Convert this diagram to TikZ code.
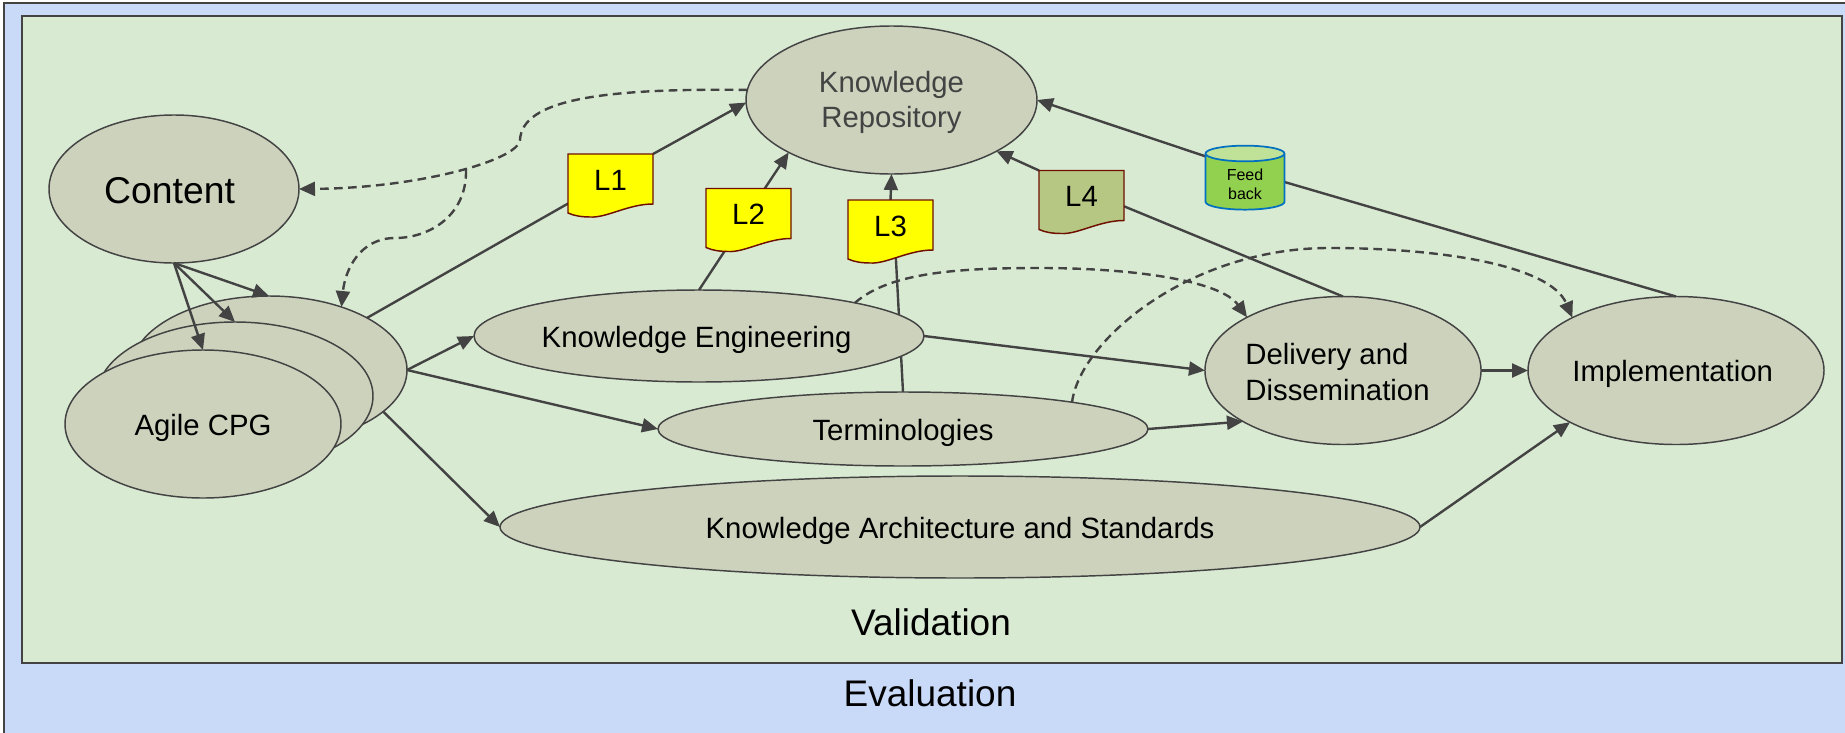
\documentclass[tikz,border=0pt]{standalone}
\usepackage{fontspec}
\setmainfont{Liberation Sans}
\usetikzlibrary{arrows.meta,shapes.geometric}
\definecolor{ev_blue}{RGB}{201, 218, 248}
\definecolor{va_green}{RGB}{217, 234, 211}
\definecolor{el_gray}{RGB}{205, 210, 189}
\definecolor{ln_dark}{RGB}{67, 67, 67}
\definecolor{dc_red}{RGB}{110, 15, 0}
\definecolor{dc_yellow}{RGB}{255, 255, 0}
\definecolor{dc_olive}{RGB}{182, 198, 131}
\definecolor{fb_green}{RGB}{146, 208, 80}
\definecolor{fb_top}{RGB}{192, 225, 152}
\definecolor{fb_blue}{RGB}{0, 112, 192}
\tikzstyle{el}=[ellipse,fill=el_gray,draw=ln_dark,line width=1.1pt,inner sep=0pt,
  outer sep=0pt,font=\fontsize{22}{26.5}\selectfont,align=center]
\tikzstyle{sl}=[text height=21pt,text depth=4.4pt]
\tikzstyle{dc}=[rectangle,minimum width=63.75pt,minimum height=39pt,inner sep=0pt,
  outer sep=0pt,font=\fontsize{22}{26.5}\selectfont]
\tikzstyle{dl}=[draw=dc_red,line width=1.1pt]
\tikzstyle{ar}=[draw=ln_dark,line width=1.8pt,-{Triangle[length=12pt,width=10.5pt]}]
\tikzstyle{ln}=[draw=ln_dark,line width=1.8pt]
\tikzstyle{da}=[ar,dash pattern=on 6.5pt off 4pt]
\tikzstyle{bx}=[draw=ln_dark,line width=1.6pt]
\tikzstyle{tt}=[font=\fontsize{27.75}{33}\selectfont]
\pgfdeclarelayer{back}
\pgfdeclarelayer{front}
\pgfsetlayers{back,main,front}
% document shape with its node: name, position, fill, text
\newcommand{\docnode}[4]{
  \begin{pgfonlayer}{front}
    \draw [style=dl, fill=#3, shift={(#2)}] (-42.5, -26) -- (42.5, -26) -- (42.5, 24)
      .. controls (18, 24) and (-4, 38) .. (-20, 37)
      .. controls (-28, 37) and (-36, 36) .. (-42.5, 33) -- cycle;
    \node [style=dc] (#1) at (#2) {#4};
  \end{pgfonlayer}
}

\begin{document}
\begin{tikzpicture}[x=0.75pt, y=-0.75pt]
    \useasboundingbox (0, 0) rectangle (1845, 732);
    \begin{pgfonlayer}{back}
        \begin{scope}
            \clip (0, 0) rectangle (1845, 732);
            \draw [style=bx, fill=ev_blue] (4, 3) rectangle (1870, 760);
        \end{scope}
        \draw [style=bx, fill=va_green] (22, 16) rectangle (1842, 663);
    \end{pgfonlayer}
    \node [style=tt] (val) at (931, 622) {Validation};
    \node [style=tt] (eva) at (930, 693) {Evaluation};

    \node [style=el, minimum width=250*0.75pt, minimum height=148*0.75pt, text height=21.5pt, text depth=0pt, font=\fontsize{28}{33}\selectfont] (cnt) at (174, 189) {Content\hspace*{6.7pt}};
    \node [style=el, minimum width=276*0.75pt, minimum height=148*0.75pt] (ag3) at (269, 370) {};
    \node [style=el, minimum width=276*0.75pt, minimum height=148*0.75pt] (ag2) at (235, 396) {};
    \node [style=el, style=sl, minimum width=276*0.75pt, minimum height=148*0.75pt] (ag1) at (203, 424) {Agile CPG};
    \node [style=el, minimum width=291*0.75pt, minimum height=148*0.75pt, text=ln_dark] (kr) at (891.5, 100) {\rule{0pt}{20pt}Knowledge\\Repository};
    \node [style=el, style=sl, minimum width=450*0.75pt, minimum height=92*0.75pt] (ke) at (699, 336) {Knowledge Engineering\hspace*{3.5pt}};
    \node [style=el, style=sl, minimum width=490*0.75pt, minimum height=74*0.75pt] (tm) at (903, 429) {Terminologies};
    \node [style=el, style=sl, minimum width=920*0.75pt, minimum height=102*0.75pt] (ka) at (960, 527) {Knowledge Architecture and Standards};
    \node [style=el, minimum width=276*0.75pt, minimum height=148*0.75pt, align=left] (dd) at (1343, 370.5) {\rule{0pt}{18pt}Delivery and\\Dissemination\hspace*{8.25pt}};
    \node [style=el, style=sl, minimum width=296*0.75pt, minimum height=148*0.75pt] (im) at (1676, 370.5) {Implementation\hspace*{5pt}};

    \docnode{l1}{610.5, 180}{dc_yellow}{L1}
    \docnode{l2}{748.5, 214.5}{dc_yellow}{L2}
    \docnode{l3}{890.5, 226}{dc_yellow}{L3}
    \docnode{l4}{1081.5, 196.5}{dc_olive}{L4}
    \begin{pgfonlayer}{front}
        \node [cylinder, shape border rotate=90, aspect=0.43, cylinder uses custom fill,
          cylinder body fill=fb_green, cylinder end fill=fb_top, draw=fb_blue, line width=1.3pt,
          minimum width=79*0.75pt, minimum height=64*0.75pt, inner sep=0pt, outer sep=0pt,
          align=center, font=\fontsize{12}{13.9}\selectfont] (fb) at (1245, 182) {\rule{0pt}{12.3pt}Feed\\back};
    \end{pgfonlayer}

    \draw [style=ar] (cnt.south) to (ag3.north);
    \draw [style=ar] (cnt.south) to (ag2.north);
    \draw [style=ar] (cnt.south) to (ag1.north);
    \draw [style=ar] (ag3.east) to (ke.west);
    \draw [style=ar] (ag3.east) to (tm.west);
    \draw [style=ar] (ag3.340) to (ka.west);
    \draw [style=ar] (ke.east) to (dd.west);
    \draw [style=ar] (tm.east) to (dd.207);
    \draw [style=ar] (dd.east) to (im.west);
    \draw [style=ar] (ka.east) to (im.206);
    \draw [style=ln] (ag3.28) to (l1.209);
    \draw [style=ar] (l1.north east) to (kr.181);
    \draw [style=ln] (ke.north) to (l2.237);
    \draw [style=ar] (l2.58) to (kr.207);
    \begin{pgfonlayer}{back}
        \draw [style=ln] (tm.north) to (l3.281);
    \end{pgfonlayer}
    \draw [style=ar] (l3.north) to (kr.south);
    \draw [style=ln] (dd.north) to (l4.347);
    \draw [style=ar] (l4.north west) to (kr.334);
    \draw [style=ln] (im.north) to (fb.east);
    \draw [style=ar] (fb.147) to (kr.east);

    \coordinate (jn) at (466, 170);
    \draw [style=da] (kr.176) .. controls (600, 88) and (522, 100) .. (520, 140)
      .. controls (518, 160) and (420, 188) .. (cnt.east);
    \draw [style=da] (jn) .. controls (467, 215) and (430, 238) .. (395, 238)
      .. controls (360, 238) and (345, 270) .. (ag3.41);
    \draw [style=da] (ke.12) .. controls (890, 272) and (960, 268) .. (1040, 268)
      .. controls (1130, 268) and (1220, 280) .. (dd.151);
    \draw [style=da] (tm.9) .. controls (1080, 340) and (1190, 248) .. (1329, 248)
      .. controls (1440, 248) and (1550, 265) .. (im.153);
\end{tikzpicture}
\end{document}
